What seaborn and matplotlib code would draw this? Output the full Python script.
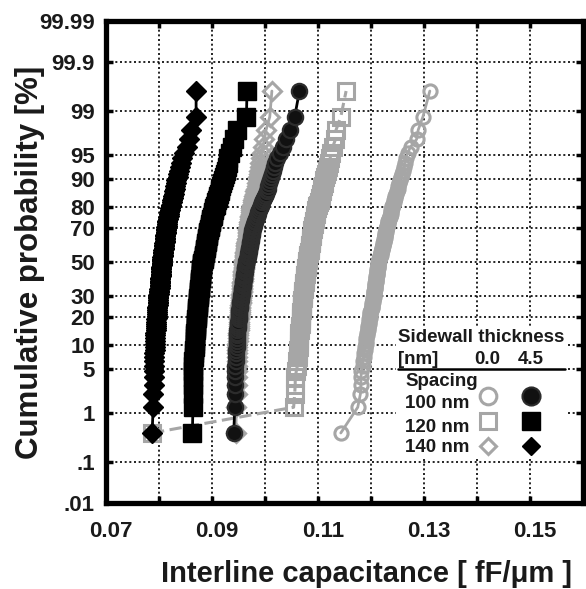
import math
import numpy as np
import pandas as pd
import matplotlib
matplotlib.use("Agg")
import matplotlib.pyplot as plt
import matplotlib.transforms as mtransforms
from matplotlib.patches import Rectangle
from matplotlib.lines import Line2D
import seaborn as sns

# ---------------- data (interline capacitance, fF/um, sorted) ----------------
# sidewall thickness 0.0 nm (open grey markers)
cap_100_t00 = [
    0.1143, 0.1175, 0.1180, 0.1181, 0.1181, 0.1182, 0.1184, 0.1185, 0.1186, 0.1187, 0.1188, 0.1189,
    0.1190, 0.1191, 0.1191, 0.1192, 0.1193, 0.1194, 0.1194, 0.1195, 0.1196, 0.1196, 0.1197, 0.1198,
    0.1198, 0.1199, 0.1199, 0.1200, 0.1201, 0.1201, 0.1202, 0.1202, 0.1203, 0.1204, 0.1204, 0.1205,
    0.1205, 0.1206, 0.1206, 0.1206, 0.1207, 0.1207, 0.1208, 0.1208, 0.1208, 0.1209, 0.1209, 0.1210,
    0.1210, 0.1210, 0.1211, 0.1211, 0.1211, 0.1212, 0.1212, 0.1213, 0.1213, 0.1213, 0.1214, 0.1214,
    0.1215, 0.1215, 0.1216, 0.1217, 0.1217, 0.1218, 0.1219, 0.1219, 0.1220, 0.1221, 0.1221, 0.1222,
    0.1222, 0.1223, 0.1224, 0.1224, 0.1225, 0.1226, 0.1226, 0.1227, 0.1227, 0.1228, 0.1228, 0.1229,
    0.1230, 0.1231, 0.1232, 0.1232, 0.1233, 0.1234, 0.1235, 0.1236, 0.1237, 0.1237, 0.1238, 0.1239,
    0.1240, 0.1241, 0.1243, 0.1244, 0.1245, 0.1246, 0.1248, 0.1249, 0.1250, 0.1251, 0.1253, 0.1254,
    0.1256, 0.1258, 0.1260, 0.1262, 0.1264, 0.1266, 0.1269, 0.1275, 0.1286, 0.1289, 0.1298, 0.1311,
]
cap_120_t00 = [
    0.0787, 0.1054, 0.1056, 0.1057, 0.1057, 0.1059, 0.1061, 0.1061, 0.1062, 0.1062, 0.1063, 0.1064,
    0.1064, 0.1064, 0.1065, 0.1065, 0.1065, 0.1066, 0.1066, 0.1066, 0.1067, 0.1067, 0.1067, 0.1068,
    0.1068, 0.1068, 0.1068, 0.1069, 0.1069, 0.1069, 0.1069, 0.1070, 0.1070, 0.1070, 0.1071, 0.1071,
    0.1071, 0.1072, 0.1072, 0.1072, 0.1073, 0.1073, 0.1073, 0.1074, 0.1074, 0.1075, 0.1075, 0.1075,
    0.1076, 0.1076, 0.1076, 0.1077, 0.1077, 0.1077, 0.1078, 0.1078, 0.1079, 0.1079, 0.1079, 0.1080,
    0.1080, 0.1081, 0.1081, 0.1082, 0.1082, 0.1082, 0.1083, 0.1083, 0.1084, 0.1084, 0.1085, 0.1085,
    0.1085, 0.1086, 0.1086, 0.1087, 0.1087, 0.1087, 0.1088, 0.1088, 0.1089, 0.1089, 0.1089, 0.1090,
    0.1091, 0.1091, 0.1092, 0.1093, 0.1093, 0.1094, 0.1095, 0.1095, 0.1096, 0.1097, 0.1097, 0.1098,
    0.1099, 0.1100, 0.1101, 0.1103, 0.1104, 0.1105, 0.1106, 0.1107, 0.1108, 0.1110, 0.1111, 0.1112,
    0.1114, 0.1115, 0.1117, 0.1119, 0.1121, 0.1123, 0.1125, 0.1128, 0.1133, 0.1134, 0.1143, 0.1153,
]
cap_140_t00 = [
    0.0945, 0.0946, 0.0947, 0.0947, 0.0947, 0.0947, 0.0947, 0.0948, 0.0948, 0.0948, 0.0948, 0.0948,
    0.0948, 0.0949, 0.0949, 0.0949, 0.0949, 0.0950, 0.0950, 0.0950, 0.0950, 0.0951, 0.0951, 0.0951,
    0.0951, 0.0952, 0.0952, 0.0952, 0.0953, 0.0953, 0.0953, 0.0954, 0.0954, 0.0954, 0.0955, 0.0955,
    0.0955, 0.0955, 0.0956, 0.0956, 0.0956, 0.0956, 0.0957, 0.0957, 0.0957, 0.0957, 0.0958, 0.0958,
    0.0958, 0.0958, 0.0959, 0.0959, 0.0959, 0.0959, 0.0960, 0.0960, 0.0960, 0.0960, 0.0961, 0.0961,
    0.0961, 0.0961, 0.0962, 0.0962, 0.0962, 0.0963, 0.0963, 0.0963, 0.0964, 0.0964, 0.0964, 0.0965,
    0.0965, 0.0965, 0.0966, 0.0966, 0.0966, 0.0967, 0.0967, 0.0967, 0.0967, 0.0968, 0.0968, 0.0968,
    0.0969, 0.0969, 0.0970, 0.0970, 0.0971, 0.0971, 0.0972, 0.0972, 0.0973, 0.0973, 0.0974, 0.0974,
    0.0975, 0.0976, 0.0977, 0.0978, 0.0979, 0.0980, 0.0981, 0.0982, 0.0983, 0.0984, 0.0985, 0.0986,
    0.0987, 0.0988, 0.0989, 0.0990, 0.0991, 0.0993, 0.0994, 0.0996, 0.0999, 0.1002, 0.1009, 0.1013,
]
# sidewall thickness 4.5 nm (filled black markers)
cap_100_t45 = [
    0.0941, 0.0943, 0.0943, 0.0943, 0.0944, 0.0944, 0.0944, 0.0945, 0.0945, 0.0946, 0.0946, 0.0947,
    0.0947, 0.0947, 0.0948, 0.0948, 0.0948, 0.0948, 0.0949, 0.0949, 0.0949, 0.0949, 0.0950, 0.0950,
    0.0950, 0.0951, 0.0951, 0.0951, 0.0952, 0.0952, 0.0953, 0.0953, 0.0953, 0.0954, 0.0954, 0.0955,
    0.0955, 0.0956, 0.0956, 0.0957, 0.0957, 0.0957, 0.0958, 0.0958, 0.0959, 0.0959, 0.0959, 0.0960,
    0.0960, 0.0961, 0.0961, 0.0961, 0.0962, 0.0962, 0.0963, 0.0963, 0.0963, 0.0964, 0.0964, 0.0965,
    0.0965, 0.0966, 0.0966, 0.0967, 0.0967, 0.0968, 0.0968, 0.0969, 0.0969, 0.0970, 0.0970, 0.0971,
    0.0971, 0.0972, 0.0972, 0.0973, 0.0973, 0.0974, 0.0974, 0.0975, 0.0975, 0.0976, 0.0976, 0.0977,
    0.0978, 0.0979, 0.0980, 0.0981, 0.0982, 0.0983, 0.0984, 0.0985, 0.0986, 0.0987, 0.0989, 0.0990,
    0.0992, 0.0993, 0.0995, 0.0997, 0.0998, 0.1000, 0.1001, 0.1003, 0.1005, 0.1006, 0.1008, 0.1009,
    0.1011, 0.1013, 0.1015, 0.1017, 0.1019, 0.1022, 0.1029, 0.1034, 0.1040, 0.1048, 0.1056, 0.1065,
]
cap_120_t45 = [
    0.0863, 0.0864, 0.0864, 0.0864, 0.0864, 0.0865, 0.0865, 0.0865, 0.0866, 0.0866, 0.0866, 0.0867,
    0.0867, 0.0867, 0.0868, 0.0868, 0.0868, 0.0869, 0.0869, 0.0869, 0.0870, 0.0870, 0.0870, 0.0871,
    0.0871, 0.0871, 0.0872, 0.0872, 0.0872, 0.0873, 0.0873, 0.0873, 0.0874, 0.0874, 0.0874, 0.0875,
    0.0875, 0.0875, 0.0876, 0.0876, 0.0876, 0.0877, 0.0877, 0.0877, 0.0878, 0.0878, 0.0878, 0.0878,
    0.0879, 0.0879, 0.0879, 0.0880, 0.0880, 0.0880, 0.0880, 0.0881, 0.0881, 0.0881, 0.0882, 0.0882,
    0.0883, 0.0883, 0.0884, 0.0884, 0.0885, 0.0885, 0.0886, 0.0886, 0.0887, 0.0887, 0.0888, 0.0888,
    0.0889, 0.0889, 0.0890, 0.0890, 0.0891, 0.0891, 0.0892, 0.0892, 0.0893, 0.0893, 0.0894, 0.0895,
    0.0896, 0.0896, 0.0897, 0.0898, 0.0899, 0.0899, 0.0900, 0.0901, 0.0902, 0.0902, 0.0903, 0.0904,
    0.0905, 0.0907, 0.0908, 0.0909, 0.0911, 0.0912, 0.0913, 0.0915, 0.0916, 0.0917, 0.0919, 0.0920,
    0.0922, 0.0924, 0.0926, 0.0928, 0.0930, 0.0931, 0.0934, 0.0938, 0.0941, 0.0947, 0.0965, 0.0966,
]
cap_140_t45 = [
    0.0787, 0.0789, 0.0789, 0.0790, 0.0790, 0.0790, 0.0791, 0.0791, 0.0791, 0.0791, 0.0792, 0.0792,
    0.0792, 0.0792, 0.0793, 0.0793, 0.0793, 0.0794, 0.0794, 0.0794, 0.0795, 0.0795, 0.0795, 0.0796,
    0.0796, 0.0796, 0.0797, 0.0797, 0.0797, 0.0797, 0.0798, 0.0798, 0.0798, 0.0798, 0.0799, 0.0799,
    0.0799, 0.0800, 0.0800, 0.0800, 0.0800, 0.0801, 0.0801, 0.0801, 0.0801, 0.0802, 0.0802, 0.0802,
    0.0802, 0.0803, 0.0803, 0.0803, 0.0803, 0.0804, 0.0804, 0.0804, 0.0804, 0.0805, 0.0805, 0.0805,
    0.0805, 0.0806, 0.0806, 0.0806, 0.0807, 0.0807, 0.0808, 0.0808, 0.0808, 0.0809, 0.0809, 0.0809,
    0.0810, 0.0810, 0.0811, 0.0811, 0.0811, 0.0812, 0.0812, 0.0812, 0.0813, 0.0813, 0.0813, 0.0814,
    0.0814, 0.0815, 0.0815, 0.0816, 0.0816, 0.0817, 0.0817, 0.0818, 0.0819, 0.0819, 0.0820, 0.0821,
    0.0822, 0.0823, 0.0824, 0.0825, 0.0826, 0.0827, 0.0828, 0.0829, 0.0830, 0.0831, 0.0832, 0.0833,
    0.0835, 0.0836, 0.0838, 0.0840, 0.0842, 0.0844, 0.0848, 0.0852, 0.0856, 0.0860, 0.0870, 0.0870,
]

spacing_labels = ["100 nm", "120 nm", "140 nm"]
thickness_labels = ["0.0", "4.5"]
x_ticks = [0.07, 0.08, 0.09, 0.10, 0.11, 0.12, 0.13, 0.14, 0.15, 0.16]
x_ticklabels = ["0.07", "", "0.09", "", "0.11", "", "0.13", "", "0.15", ""]
y_ticks = [0.01, 0.1, 1, 5, 10, 20, 30, 50, 70, 80, 90, 95, 99, 99.9, 99.99]
y_ticklabels = [".01", ".1", "1", "5", "10", "20", "30", "50", "70", "80", "90", "95", "99", "99.9", "99.99"]

# ---------------- normal-probability scale ----------------
_a = [-3.969683028665376e+01, 2.209460984245205e+02, -2.759285104469687e+02,
      1.383577518672690e+02, -3.066479806614716e+01, 2.506628277459239e+00]
_b = [-5.447609879822406e+01, 1.615858368580409e+02, -1.556989798598866e+02,
      6.680131188771972e+01, -1.328068155288572e+01]
_c = [-7.784894002430293e-03, -3.223964580411365e-01, -2.400758277161838e+00,
      -2.549671348193817e+00, 4.374664141464968e+00, 2.938163982698783e+00]
_d = [7.784695709041462e-03, 3.224671290700398e-01, 2.445134137142996e+00,
      3.754408661907416e+00]


def norm_ppf(p):
    p = np.clip(np.asarray(p, dtype=float), 1e-15, 1 - 1e-15)
    plow = 0.02425
    q = p - 0.5
    r = q * q
    central = ((((((_a[0] * r + _a[1]) * r + _a[2]) * r + _a[3]) * r + _a[4]) * r + _a[5]) * q /
               (((((_b[0] * r + _b[1]) * r + _b[2]) * r + _b[3]) * r + _b[4]) * r + 1))
    ql = np.sqrt(-2 * np.log(np.minimum(p, 1 - p)))
    tail = ((((((_c[0] * ql + _c[1]) * ql + _c[2]) * ql + _c[3]) * ql + _c[4]) * ql + _c[5]) /
            ((((_d[0] * ql + _d[1]) * ql + _d[2]) * ql + _d[3]) * ql + 1))
    tail = np.where(p < 0.5, tail, -tail)
    return np.where((p < plow) | (p > 1 - plow), tail, central)


_erf = np.vectorize(math.erf, otypes=[float])


def norm_cdf(z):
    z = np.asarray(z, dtype=float)
    return 0.5 * (1 + _erf(z / math.sqrt(2)))


def prob_forward(y):
    return norm_ppf(np.asarray(y, dtype=float) / 100.0)


def prob_inverse(z):
    return norm_cdf(z) * 100.0


# ---------------- figure ----------------
sns.set_style("ticks")
plt.rcParams["font.family"] = ["Liberation Sans", "DejaVu Sans"]
plt.rcParams["font.weight"] = "bold"

W, H = 586, 589
fig = plt.figure(figsize=(W / 100, H / 100), dpi=100)
ax_l, ax_r, ax_t, ax_b = 106, 583, 21, 503
ax = fig.add_axes([ax_l / W, (H - ax_b) / H, (ax_r - ax_l) / W, (ax_b - ax_t) / H])
ax.set_yscale("function", functions=(prob_forward, prob_inverse))

GREY = "#a6a6a6"


def plotting_positions(vals):
    n = len(vals)
    return (np.arange(1, n + 1) - 0.5) / n * 100.0


series = [
    (cap_100_t00, dict(marker="o", markersize=9.5, markerfacecolor="none", mec=GREY, mew=2.2,
                       color=GREY, linewidth=2.0, linestyle="-")),
    (cap_120_t00, dict(marker="s", markersize=11.5, markerfacecolor="none", mec=GREY, mew=2.2,
                       color=GREY, linewidth=2.2, linestyle=(0, (4, 1.8)))),
    (cap_140_t00, dict(marker="D", markersize=9, markerfacecolor="none", mec=GREY, mew=2.2,
                       color=GREY, linewidth=2.0, linestyle="-")),
    (cap_100_t45, dict(marker="o", markersize=11, markerfacecolor="#111111", mec="#2c2c2c", mew=1.6,
                       color="black", linewidth=2.0, linestyle="-")),
    (cap_120_t45, dict(marker="s", markersize=12.5, markerfacecolor="black", mec="black", mew=1.0,
                       color="black", linewidth=2.0, linestyle="-")),
    (cap_140_t45, dict(marker="D", markersize=10, markerfacecolor="black", mec="black", mew=1.0,
                       color="black", linewidth=2.0, linestyle="-")),
]

for vals, style in series:
    df = pd.DataFrame({"cap": vals, "prob": plotting_positions(vals)})
    sns.lineplot(data=df, x="cap", y="prob", estimator=None, sort=False, ax=ax,
                 legend=False, zorder=3, **style)

ax.set_xlim(0.07, 0.16)
ax.set_ylim(0.01, 99.99)
ax.set_xticks(x_ticks)
ax.set_xticklabels(x_ticklabels)
ax.set_yticks(y_ticks)
ax.set_yticklabels(y_ticklabels)
ax.minorticks_off()

ax.set_axisbelow(True)
ax.grid(True, which="major", color="black", linestyle=(0, (1.2, 1.6)), linewidth=1.2)

for s in ax.spines.values():
    s.set_linewidth(3.8)
    s.set_visible(True)
    s.set_color("black")

ax.tick_params(axis="both", which="major", direction="in", length=5, width=2.5,
               top=True, right=True, labelsize=16, colors="black", labelcolor="#1a1a1a")
ax.tick_params(axis="x", pad=13)
ax.tick_params(axis="y", pad=8)
shift = mtransforms.ScaledTranslation(5 / 100, 0, fig.dpi_scale_trans)
for lab in ax.get_xticklabels():
    lab.set_fontweight("bold")
    lab.set_transform(lab.get_transform() + shift)
for lab in ax.get_yticklabels():
    lab.set_fontweight("bold")

ax.set_xlabel("Interline capacitance [ fF/\u03bcm ]", fontsize=21, fontweight="bold", color="#1a1a1a")
ax.set_ylabel("Cumulative probability [%]", fontsize=22.5, fontweight="bold", color="#1a1a1a")
ax.xaxis.set_label_coords(0.546, -0.118)
ax.yaxis.set_label_coords(-0.128, 0.5)

# ---------------- custom legend table ----------------
def ax_x(px):
    return (px - ax_l) / (ax_r - ax_l)


def ax_y(py):
    return (ax_b - py) / (ax_b - ax_t)


ax.add_patch(Rectangle((ax_x(396), ax_y(459)), ax_x(566) - ax_x(396), ax_y(327) - ax_y(459),
                       transform=ax.transAxes, facecolor="white", edgecolor="none", zorder=4))
tkw = dict(transform=ax.transAxes, fontsize=13.5, fontweight="bold", va="center", zorder=6,
           color="#1a1a1a")
ax.text(ax_x(398), ax_y(338), "Sidewall thickness", ha="left", **tkw)
ax.text(ax_x(398), ax_y(360), "[nm]", ha="left", **tkw)
ax.text(ax_x(487), ax_y(360), thickness_labels[0], ha="center", **tkw)
ax.text(ax_x(531), ax_y(360), thickness_labels[1], ha="center", **tkw)
ax.add_line(Line2D([ax_x(398), ax_x(565)], [ax_y(369), ax_y(369)], transform=ax.transAxes,
                   color="black", linewidth=1.8, zorder=6))
ax.text(ax_x(405), ax_y(382), "Spacing", ha="left", **tkw)
row_y = [403, 427, 448]
key_y = [396, 421, 446]
for lab, ry in zip(spacing_labels, row_y):
    ax.text(ax_x(405), ax_y(ry), lab, ha="left", **tkw)

key_styles = [
    (dict(marker="o", markersize=12, markerfacecolor="none", markeredgecolor=GREY, markeredgewidth=2.2),
     dict(marker="o", markersize=13, markerfacecolor="#111111", markeredgecolor="#2c2c2c", markeredgewidth=1.5)),
    (dict(marker="s", markersize=12, markerfacecolor="none", markeredgecolor=GREY, markeredgewidth=2.2),
     dict(marker="s", markersize=13, markerfacecolor="black", markeredgecolor="black", markeredgewidth=1)),
    (dict(marker="D", markersize=8.5, markerfacecolor="none", markeredgecolor=GREY, markeredgewidth=2.2),
     dict(marker="D", markersize=9.5, markerfacecolor="black", markeredgecolor="black", markeredgewidth=1)),
]
for (open_kw, fill_kw), ky in zip(key_styles, key_y):
    ax.add_line(Line2D([ax_x(488)], [ax_y(ky)], transform=ax.transAxes, linestyle="none",
                       zorder=6, **open_kw))
    ax.add_line(Line2D([ax_x(531)], [ax_y(ky)], transform=ax.transAxes, linestyle="none",
                       zorder=6, **fill_kw))

fig.savefig("out.png", dpi=100, facecolor="white")
